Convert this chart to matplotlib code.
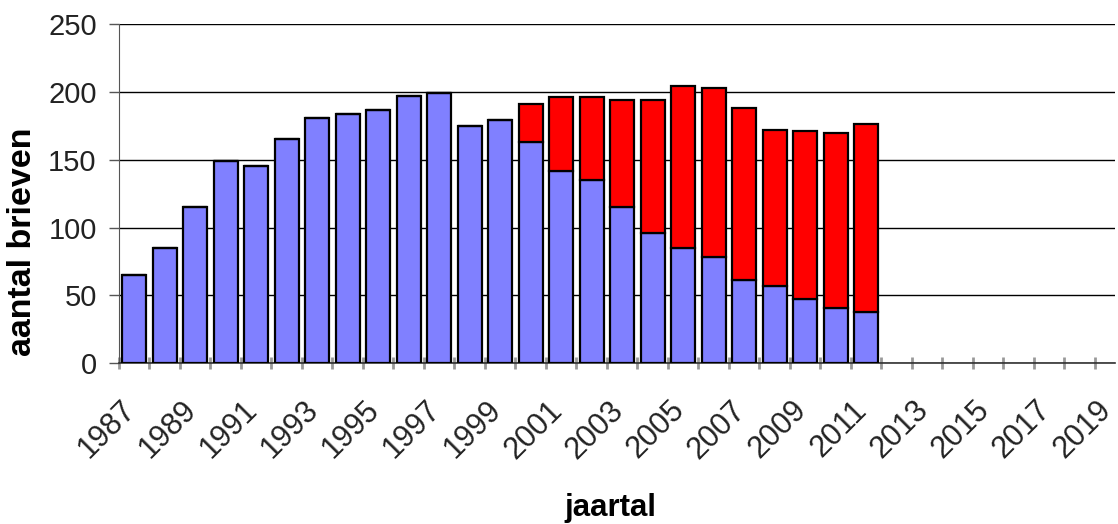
import matplotlib
matplotlib.use("Agg")
import matplotlib.pyplot as plt
import numpy as np

plt.rcParams['font.family'] = ['Liberation Sans', 'DejaVu Sans']

years = [str(y) for y in range(1987, 2020)]
blue = [65, 85, 115, 149, 145, 165, 181, 184, 187, 197, 199, 175, 179,
        163, 142, 135, 115, 96, 85, 78, 61, 57, 47, 41, 38]
red = [0, 0, 0, 0, 0, 0, 0, 0, 0, 0, 0, 0, 0,
       28, 54, 61, 79, 98, 119, 125, 127, 115, 124, 129, 138]
yticks = [0, 50, 100, 150, 200, 250]
ylabel = "aantal brieven"
xlabel = "jaartal"

fig = plt.figure(figsize=(11.18, 5.24), dpi=100)
ax = fig.add_axes([0.1064, 0.307, 0.8906, 0.647])

n = len(blue)
x = np.arange(n)
ax.bar(x, blue, width=0.79, color='#8080FF', edgecolor='black', linewidth=1.6, zorder=3)
ax.bar(x, red, width=0.79, bottom=blue, color='#FF0000', edgecolor='black', linewidth=1.6, zorder=3)

ax.set_ylim(0, 250)
ax.set_xlim(-0.5, 32.15)
ax.set_yticks(yticks)
ax.set_yticklabels([str(v) for v in yticks], fontsize=21, color='#222222')
ax.yaxis.grid(True, color='black', linewidth=1.0, zorder=0)
ax.tick_params(axis='y', length=7, width=1.0, color='#555555', pad=9)

# x: major ticks at category boundaries, labels for odd years
ax.set_xticks(np.arange(len(years)) - 0.5)
ax.set_xticklabels([])
ax.tick_params(axis='x', which='major', length=8, width=2, color='#999999', direction='inout')
lab_idx = [i for i, y in enumerate(years) if int(y) % 2 == 1]
ax.set_xticks([i - 0.46 for i in lab_idx], minor=True)
ax.set_xticklabels([years[i] for i in lab_idx], minor=True, rotation=45, ha='right',
                   rotation_mode='anchor', fontsize=22, color='#222222')
ax.tick_params(axis='x', which='minor', length=0, pad=23)

for s in ['top', 'right']:
    ax.spines[s].set_visible(False)
ax.spines['left'].set_color('#555555')
ax.spines['bottom'].set_color('#333333')
ax.spines['bottom'].set_linewidth(1.2)

fig.text(0.02, 0.538, ylabel, fontsize=24.5, fontweight='bold', rotation=90,
         ha='center', va='center')
fig.text(0.5456, 0.002, xlabel, fontsize=22.5, fontweight='bold', ha='center', va='bottom')

fig.savefig("out.png", dpi=100)
